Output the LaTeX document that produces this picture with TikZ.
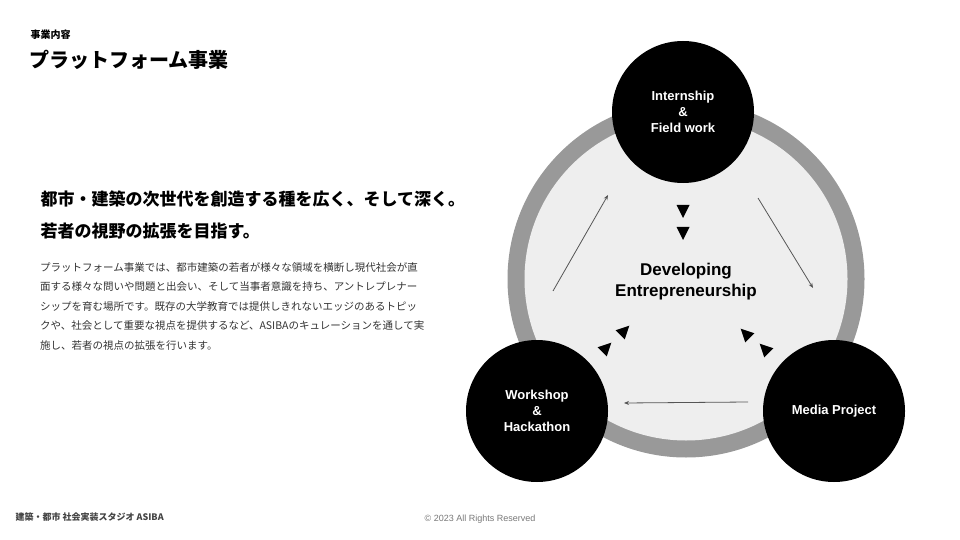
\documentclass[tikz,border=0pt]{standalone}
\usepackage{fontspec}
\setmainfont{Liberation Sans}
\newfontfamily\jpfont{Noto Sans CJK JP}
\usetikzlibrary{shapes.geometric,arrows.meta}
\definecolor{ringgray}{HTML}{999999}
\definecolor{innergray}{HTML}{EEEEEE}
\definecolor{bodytext}{HTML}{333333}
\definecolor{arrowgray}{HTML}{555555}
\definecolor{footdark}{HTML}{444444}
\definecolor{footgray}{HTML}{777777}
\begin{document}
\begin{tikzpicture}[x=1pt,y=-1pt,
   bigdot/.style={circle,fill=black,minimum size=142pt,inner sep=0pt,text=white,
     font=\bfseries\fontsize{13}{16}\selectfont,align=center},
   tri/.style={isosceles triangle,isosceles triangle stretches,fill=black,
     minimum width=13pt,minimum height=13pt,inner sep=0pt},
   flow/.style={draw=arrowgray,line width=0.8pt,-{Stealth[length=5pt,width=4pt]}}]
   \useasboundingbox (0,0) rectangle (960,540);
   % ring behind the three topics
   \fill[ringgray] (686,279) circle (178.5pt);
   \fill[innergray] (686,279) circle (161.5pt);
   \node[bigdot] (intern) at (683,112) {Internship\\\&\\Field work};
   \node[bigdot] (work) at (537,411) {Workshop\\\&\\Hackathon};
   \node[bigdot] (media) at (834,411) {Media Project};
   \node[font=\bfseries\fontsize{17}{21}\selectfont,align=center] (core) at (686,282) {Developing\\Entrepreneurship};
   % pointers toward the core
   \node[tri,rotate=-90] (t1) at (683,209) {};
   \node[tri,rotate=-90] (t2) at (683,231) {};
   \node[tri,rotate=45] (t3) at (605,349) {};
   \node[tri,rotate=45] (t4) at (623,332) {};
   \node[tri,rotate=135] (t5) at (747,335) {};
   \node[tri,rotate=135] (t6) at (766,350) {};
   % cycle arrows
   \coordinate (l1) at (553,291); \coordinate (l2) at (608,195);
   \coordinate (r1) at (758,198); \coordinate (r2) at (813,288);
   \coordinate (b1) at (748,402); \coordinate (b2) at (624,403);
   \draw[flow] (l1) -- (l2);
   \draw[flow] (r1) -- (r2);
   \draw[flow] (b1) -- (b2);
   % texts on the left
   \node[anchor=west,font=\jpfont\bfseries\fontsize{10}{12}\selectfont] (kicker) at (27,35) {事業内容};
   \node[anchor=west,font=\jpfont\bfseries\fontsize{20}{24}\selectfont] (title) at (26,60) {プラットフォーム事業};
   \node[anchor=west,font=\jpfont\bfseries\fontsize{17}{20}\selectfont] (lead1) at (37,199) {都市・建築の次世代を創造する種を広く、そして深く。};
   \node[anchor=west,font=\jpfont\bfseries\fontsize{17}{20}\selectfont] (lead2) at (37,231) {若者の視野の拡張を目指す。};
   \node[anchor=north west,align=left,inner sep=0pt,text=bodytext,
     font=\jpfont\fontsize{10.5}{19.5}\selectfont] (body) at (40,262)
     {プラットフォーム事業では、都市建築の若者が様々な領域を横断し現代社会が直\\
      面する様々な問いや問題と出会い、そして当事者意識を持ち、アントレプレナー\\
      シップを育む場所です。既存の大学教育では提供しきれないエッジのあるトピッ\\
      クや、社会として重要な視点を提供するなど、ASIBAのキュレーションを通して実\\
      施し、若者の視点の拡張を行います。};
   % footer
   \node[anchor=west,text=footdark,font=\jpfont\bfseries\fontsize{9}{11}\selectfont] (studio) at (12,517) {建築・都市 社会実装スタジオ ASIBA};
   \node[text=footgray,font=\fontsize{9}{11}\selectfont] (copy) at (480,519) {© 2023 All Rights Reserved};
\end{tikzpicture}
\end{document}
